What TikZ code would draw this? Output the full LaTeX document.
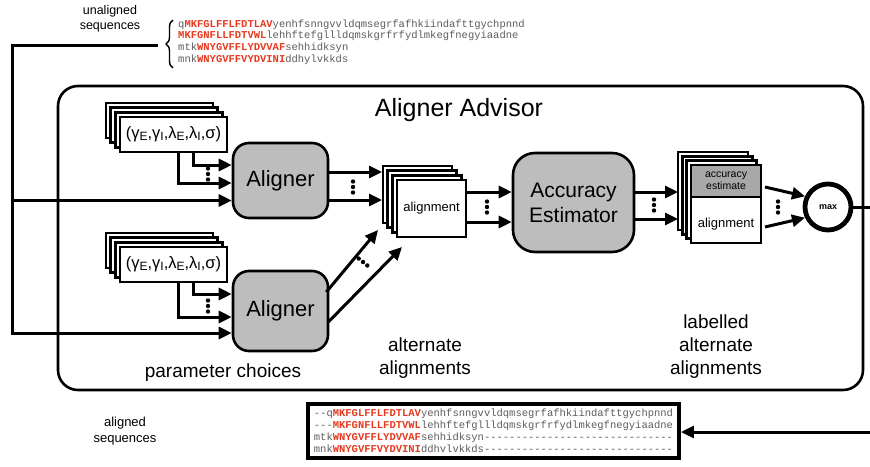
\documentclass[tikz,border=0pt]{standalone}
\usepackage{fontspec}
\setmainfont{Liberation Sans}
\newfontfamily\seqfont{Liberation Mono}[Ligatures=TeXOff]
\usetikzlibrary{arrows.meta,positioning,shadows,decorations.pathreplacing,calc}

\definecolor{motif}{HTML}{E5391F}
\definecolor{resid}{HTML}{5C5C5C}
\definecolor{alngray}{HTML}{BDBDBD}
\definecolor{estgray}{HTML}{A8A8A8}

\newcommand{\mtf}[1]{\textcolor{motif}{\bfseries #1}}
\newcommand{\psub}[1]{\raisebox{-1.5pt}{\fontsize{12}{12}\selectfont #1}}
\newcommand{\paramset}{(γ\psub{E},γ\psub{I},λ\psub{E},λ\psub{I},σ)}

\tikzset{
  wire/.style={line width=3pt},
  flow/.style={wire,-{Triangle[length=13pt,width=12pt]}},
  sheet/.style={copy shadow={shadow xshift=-#1,shadow yshift=#1,
      draw=black,fill=white,line width=2.5pt}},
  stack3/.style={draw,fill=white,line width=2.5pt,outer sep=0pt,inner sep=0pt,
      sheet=#1*3,sheet=#1*2,sheet=#1},
  aligner/.style={draw,fill=alngray,line width=2.6pt,rounded corners=16pt,
      minimum width=95pt,align=center,font=\fontsize{22}{26}\selectfont},
  caption/.style={align=center,font=\fontsize{19}{23}\selectfont},
  vdots/.pic={\foreach \d in {-5.5,0,5.5} \fill (0,\d) circle (2.2pt);}
}

\begin{document}
\begin{tikzpicture}[x=1pt,y=-1pt,font=\fontsize{13}{15}\selectfont]
\useasboundingbox (0,0) rectangle (870,466);

% frame of the advisor
\node[draw,line width=2.6pt,rounded corners=20pt,minimum width=805pt,
      minimum height=304pt] (advisor) at (460.5,238) {};
\node[font=\fontsize{25}{30}\selectfont] (title) at (459,110) {Aligner Advisor};

% unaligned input
\node[align=center,font=\fontsize{12.5}{15}\selectfont] (unlbl) at (110,19)
  {unaligned\\sequences};
\node[anchor=west,align=left,inner sep=0pt,text=resid,
      font=\seqfont\fontsize{10.5}{11.7}\selectfont] (unseq) at (178,42)
  {q\mtf{MKFGLFFLFDTLAV}yenhfsnngvvldqmsegrfafhkiindafttgychpnnd\\
   \mtf{MKFGNFLLFDTVWL}lehhftefgllldqmskgrfrfydlmkegfnegyiaadne\\
   mtk\mtf{WNYGVFFLYDVVAF}sehhidksyn\\
   mnk\mtf{WNYGVFFVYDVINI}ddhylvkkds};
\draw[decorate,decoration={brace,amplitude=7pt},line width=1.4pt]
  (173,68) -- (173,20);

% parameter choices and aligners
\node[stack3=4.7pt,minimum width=107pt,minimum height=35pt,
      font=\fontsize{16.5}{18}\selectfont] (par1) at (173.5,134.5) {\paramset};
\node[stack3=4.7pt,minimum width=107pt,minimum height=35pt,
      font=\fontsize{16.5}{18}\selectfont] (par2) at (173.5,264.5) {\paramset};
\node[aligner,minimum height=75pt] (ali1) at (280.5,180.5) {Aligner};
\node[aligner,minimum height=80pt] (ali2) at (280.5,311) {Aligner};

% alternate alignments
\node[stack3=4.7pt,minimum width=69pt,minimum height=57pt] (alt) at (431.5,208.5)
  {alignment};
\node[aligner,minimum width=121pt,minimum height=99pt,rounded corners=22pt,
      font=\fontsize{21}{25}\selectfont] (acc) at (573.5,202.5) {Accuracy\\Estimator};

% labelled alignments
\node[stack3=4.3pt,minimum width=70pt,minimum height=78pt] (lab) at (726,204) {};
\node[draw,fill=estgray,line width=2.5pt,outer sep=0pt,inner sep=0pt,anchor=north,
      minimum width=70pt,minimum height=32pt,align=center,
      font=\fontsize{10.5}{12}\selectfont] (est) at (lab.north) {accuracy\\estimate};
\node[yshift=-4pt] (labtxt) at ($(est.south)!0.5!(lab.south)$) {alignment};
\node[draw,circle,line width=4.8pt,minimum size=46pt,inner sep=0pt,
      font=\bfseries\fontsize{9}{10}\selectfont] (max) at (828,207) {max};

% captions
\node[caption] (parlbl) at (223,373) {parameter choices};
\node[caption] (altlbl) at (425,358) {alternate\\alignments};
\node[caption] (lablbl) at (716,347) {labelled\\alternate\\alignments};

% aligned output
\node[align=center,font=\fontsize{13}{16}\selectfont] (alnlbl) at (125,431)
  {aligned\\sequences};
\node[draw,line width=3.8pt,inner xsep=6pt,inner ysep=5pt,align=left,text=resid,
      font=\seqfont\fontsize{10.5}{12}\selectfont] (alnseq) at (493.5,431)
  {--q\mtf{MKFGLFFLFDTLAV}yenhfsnngvvldqmsegrfafhkiindafttgychpnnd\\
   ---\mtf{MKFGNFLLFDTVWL}lehhftefgllldqmskgrfrfydlmkegfnegyiaadne\\
   mtk\mtf{WNYGVFFLYDVVAF}sehhidksyn------------------------------\\
   mnk\mtf{WNYGVFFVYDVINI}ddhvlvkkds------------------------------};

% sequences into the aligners
\coordinate (tip) at (158,45);
\coordinate (corner) at (12,45);
\coordinate (split) at (12,200.5);
\coordinate (foot) at (12,333);
\draw[flow] (tip) -- (corner) -- (foot) -- (foot -| ali2.west);
\draw[flow] (split) -- (split -| ali1.west);

% parameters into the aligners
\draw[flow] ([xshift=19.5pt]par1.south) |- ([yshift=15.5pt]ali1.west);
\draw[flow] ([xshift=4.5pt]par1.south) |- ([yshift=-2.5pt]ali1.west);
\pic at (208,174) {vdots};
\draw[flow] ([xshift=19.5pt]par2.south) |- ([yshift=17pt]ali2.west);
\draw[flow] ([xshift=4.5pt]par2.south) |- ([yshift=-6pt]ali2.west);
\pic at (208,306) {vdots};

% aligners to alternate alignments
\coordinate (altback) at ([xshift=-15pt]alt.west);
\draw[flow] ([yshift=8.5pt]ali1.east) -- ([yshift=8.5pt]ali1.east -| altback);
\draw[flow] ([yshift=-19.5pt]ali1.east) -- ([yshift=-19.5pt]ali1.east -| altback);
\pic at (353,187) {vdots};
\draw[flow] ([shift={(-3pt,19pt)}]ali2.east) -- ([shift={(-19pt,7pt)}]alt.south west);
\draw[flow] ([shift={(-1pt,-11pt)}]ali2.east) -- ([shift={(5pt,-10pt)}]alt.south west);
\pic[rotate=51] at (363,262) {vdots};

% estimator
\draw[flow] ([yshift=16.5pt]alt.east) -- ([yshift=16.5pt]alt.east -| acc.west);
\draw[flow] ([yshift=-13.5pt]alt.east) -- ([yshift=-13.5pt]alt.east -| acc.west);
\pic at (487,207) {vdots};
\coordinate (labback) at ([xshift=-13pt]lab.west);
\draw[flow] ([yshift=10.5pt]acc.east) -- ([yshift=10.5pt]acc.east -| labback);
\draw[flow] ([yshift=-16.5pt]acc.east) -- ([yshift=-16.5pt]acc.east -| labback);
\pic at (654,205) {vdots};

% choosing the best
\draw[flow] ([shift={(4pt,17pt)}]lab.east) -- (max.155);
\draw[flow] ([shift={(4pt,-23pt)}]lab.east) -- (max.205);
\pic at (778,207) {vdots};
\coordinate (exitr) at (870,207);
\coordinate (entr) at (870,432);
\draw[wire] (max.east) -- (exitr);
\draw[flow] (entr) -- (entr -| alnseq.east);
\end{tikzpicture}
\end{document}
